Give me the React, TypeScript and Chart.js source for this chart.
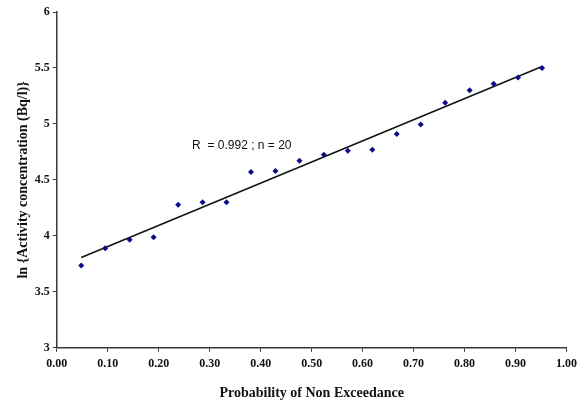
import React, { useEffect, useRef } from "react";
import { Chart, registerables } from "chart.js";

Chart.register(...registerables);

// Data
const probability = [
  0.048, 0.095, 0.143, 0.19, 0.238, 0.286, 0.333, 0.381, 0.429, 0.476,
  0.524, 0.571, 0.619, 0.667, 0.714, 0.762, 0.81, 0.857, 0.905, 0.952,
];
const lnActivity = [
  3.735, 3.89, 3.966, 3.987, 4.277, 4.3, 4.3, 4.57, 4.58, 4.67,
  4.725, 4.76, 4.77, 4.91, 4.995, 5.19, 5.3, 5.36, 5.415, 5.5,
];
const xTickLabels = ["0.00", "0.10", "0.20", "0.30", "0.40", "0.50", "0.60", "0.70", "0.80", "0.90", "1.00"];
const yTickLabels = ["3", "3.5", "4", "4.5", "5", "5.5", "6"];
const annotationText = "R  = 0.992 ; n = 20";
const annotationAt = [0.363, 4.81];
const xTitle = "Probability of Non Exceedance";
const yTitle = "ln {Activity concentration (Bq/l)}";

function linearFit(xs: number[], ys: number[]) {
  const n = xs.length;
  const mx = xs.reduce((a, b) => a + b, 0) / n;
  const my = ys.reduce((a, b) => a + b, 0) / n;
  let sxy = 0;
  let sxx = 0;
  for (let i = 0; i < n; i++) {
    sxy += (xs[i] - mx) * (ys[i] - my);
    sxx += (xs[i] - mx) * (xs[i] - mx);
  }
  const slope = sxy / sxx;
  return { slope, intercept: my - slope * mx };
}

export default function App() {
  const ref = useRef<HTMLCanvasElement | null>(null);

  useEffect(() => {
    if (!ref.current) return;
    const fit = linearFit(probability, lnActivity);
    const x0 = probability[0];
    const x1 = probability[probability.length - 1];
    const trend = [
      { x: x0, y: fit.intercept + fit.slope * x0 },
      { x: x1, y: fit.intercept + fit.slope * x1 },
    ];

    const annotationPlugin = {
      id: "rAnnotation",
      afterDatasetsDraw(chart: any) {
        const { ctx, scales } = chart;
        const px = scales.x.getPixelForValue(annotationAt[0]);
        const py = scales.y.getPixelForValue(annotationAt[1]);
        ctx.save();
        ctx.font = "12px 'Liberation Sans', Arial, sans-serif";
        ctx.fillStyle = "#111";
        ctx.textAlign = "center";
        ctx.textBaseline = "middle";
        ctx.fillText(annotationText, px, py);
        ctx.restore();
      },
    };

    const axisColor = "#3a3a3a";
    const tickFont = { family: "'Liberation Serif', 'Times New Roman', serif", size: 12, weight: "bold" as const };
    const titleFont = { family: "'Liberation Serif', 'Times New Roman', serif", size: 14, weight: "bold" as const };

    const chart = new Chart(ref.current, {
      type: "scatter",
      data: {
        datasets: [
          {
            label: "data",
            data: probability.map((x, i) => ({ x, y: lnActivity[i] })),
            pointStyle: "rectRot",
            pointRadius: 3,
            backgroundColor: "#0a0a8a",
            borderColor: "#0a0a8a",
            borderWidth: 0,
            showLine: false,
            order: 1,
          },
          {
            label: "trend",
            data: trend,
            showLine: true,
            borderColor: "#111",
            borderWidth: 1.5,
            pointRadius: 0,
            fill: false,
            order: 2,
          },
        ],
      },
      options: {
        animation: false,
        responsive: false,
        maintainAspectRatio: false,
        layout: { padding: { top: 12, right: 6, left: 15, bottom: 4 } },
        plugins: {
          legend: { display: false },
          tooltip: { enabled: false },
        },
        scales: {
          x: {
            type: "linear",
            min: 0,
            max: 1,
            border: { display: true, color: axisColor, width: 1.5 },
            grid: { display: true, drawOnChartArea: false, drawTicks: true, tickLength: 4, color: axisColor },
            ticks: {
              stepSize: 0.1,
              color: "#111",
              font: tickFont,
              padding: 5,
              maxRotation: 0,
              callback: (_v: any, i: number) => xTickLabels[i],
            },
            title: { display: true, text: xTitle, color: "#111", font: titleFont, padding: { top: 9, bottom: 0 } },
          },
          y: {
            type: "linear",
            min: 3,
            max: 6,
            border: { display: true, color: axisColor, width: 1.5 },
            grid: { display: true, drawOnChartArea: false, drawTicks: true, tickLength: 4, color: axisColor },
            ticks: {
              stepSize: 0.5,
              color: "#111",
              font: tickFont,
              padding: 3,
              callback: (_v: any, i: number) => yTickLabels[i],
            },
            title: { display: true, text: yTitle, color: "#111", font: titleFont, padding: { top: 0, bottom: 0 } },
          },
        },
      },
      plugins: [annotationPlugin],
    });
    return () => chart.destroy();
  }, []);

  return (
    <div style={{ position: "absolute", left: 0, top: 0, width: 582, height: 406, background: "#fff" }}>
      <canvas ref={ref} width={582} height={406} style={{ display: "block" }} />
    </div>
  );
}
